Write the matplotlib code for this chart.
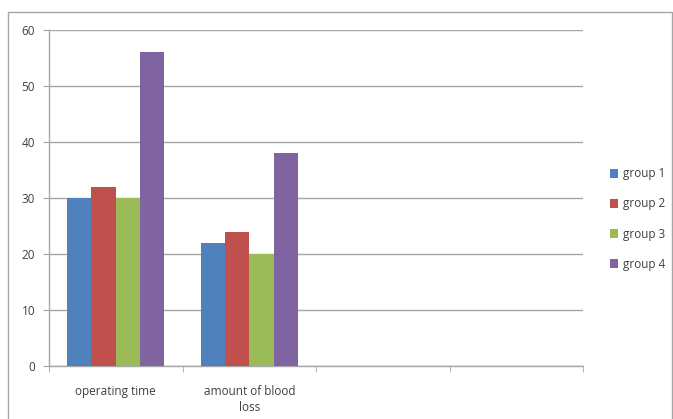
import numpy as np
import matplotlib
matplotlib.use("Agg")
import matplotlib.pyplot as plt
from matplotlib.patches import Rectangle

plt.rcParams['font.family'] = ['Open Sans', 'DejaVu Sans']

# data
categories = ["operating time", "amount of blood\nloss", "", ""]
groups = ["group 1", "group 2", "group 3", "group 4"]
values = {
    "group 1": [30, 22],
    "group 2": [32, 24],
    "group 3": [30, 20],
    "group 4": [56, 38],
}
colors = ["#4F81BD", "#C0504D", "#9BBB59", "#8064A2"]
yticks = [0, 10, 20, 30, 40, 50, 60]

fig = plt.figure(figsize=(6.73, 4.19), dpi=100)
# outer chart border
fig.patches.append(Rectangle((8 / 673, -0.01), 0.999 - 8 / 673, 1 - 12 / 419 + 0.01,
                             transform=fig.transFigure, fill=False,
                             edgecolor="#A6A6A6", linewidth=1.0))

ax = fig.add_axes([49 / 673, 1 - 366 / 419, (583 - 49) / 673, (366 - 30) / 419])

n = len(groups)
width = 1 / (n + 1.5)
x = np.arange(len(categories))
for i, (g, c) in enumerate(zip(groups, colors)):
    v = values[g]
    pos = x[:len(v)] + (i - (n - 1) / 2) * width
    ax.bar(pos, v, width=width, color=c, label=g, zorder=3)

ax.set_xlim(-0.5, len(categories) - 0.5)
ax.set_ylim(0, 60)
ax.set_yticks(yticks)
ax.yaxis.grid(True, color="#A6A6A6", linewidth=1.0, zorder=0)

ax.set_xticks(x)
ax.set_xticklabels(categories, linespacing=1.3)
ax.set_xticks(np.arange(len(categories) + 1) - 0.5, minor=True)
ax.tick_params(axis="x", which="major", length=0, pad=14, labelsize=8.5, labelcolor="#404040")
ax.tick_params(axis="x", which="minor", length=4, color="#A6A6A6", direction="out")
ax.tick_params(axis="y", length=4, color="#A6A6A6", labelsize=8.5, labelcolor="#404040", pad=6)

for s in ["top", "right"]:
    ax.spines[s].set_visible(False)
for s in ["left", "bottom"]:
    ax.spines[s].set_color("#A6A6A6")
    ax.spines[s].set_linewidth(1.0)

leg = ax.legend(loc="center left", bbox_to_anchor=(1.03, 0.4375), frameon=False,
                fontsize=8.5, handlelength=0.75, handleheight=0.75, handletextpad=0.4,
                labelspacing=1.45)
for t in leg.get_texts():
    t.set_color("#404040")

fig.savefig("out.png", dpi=100)
